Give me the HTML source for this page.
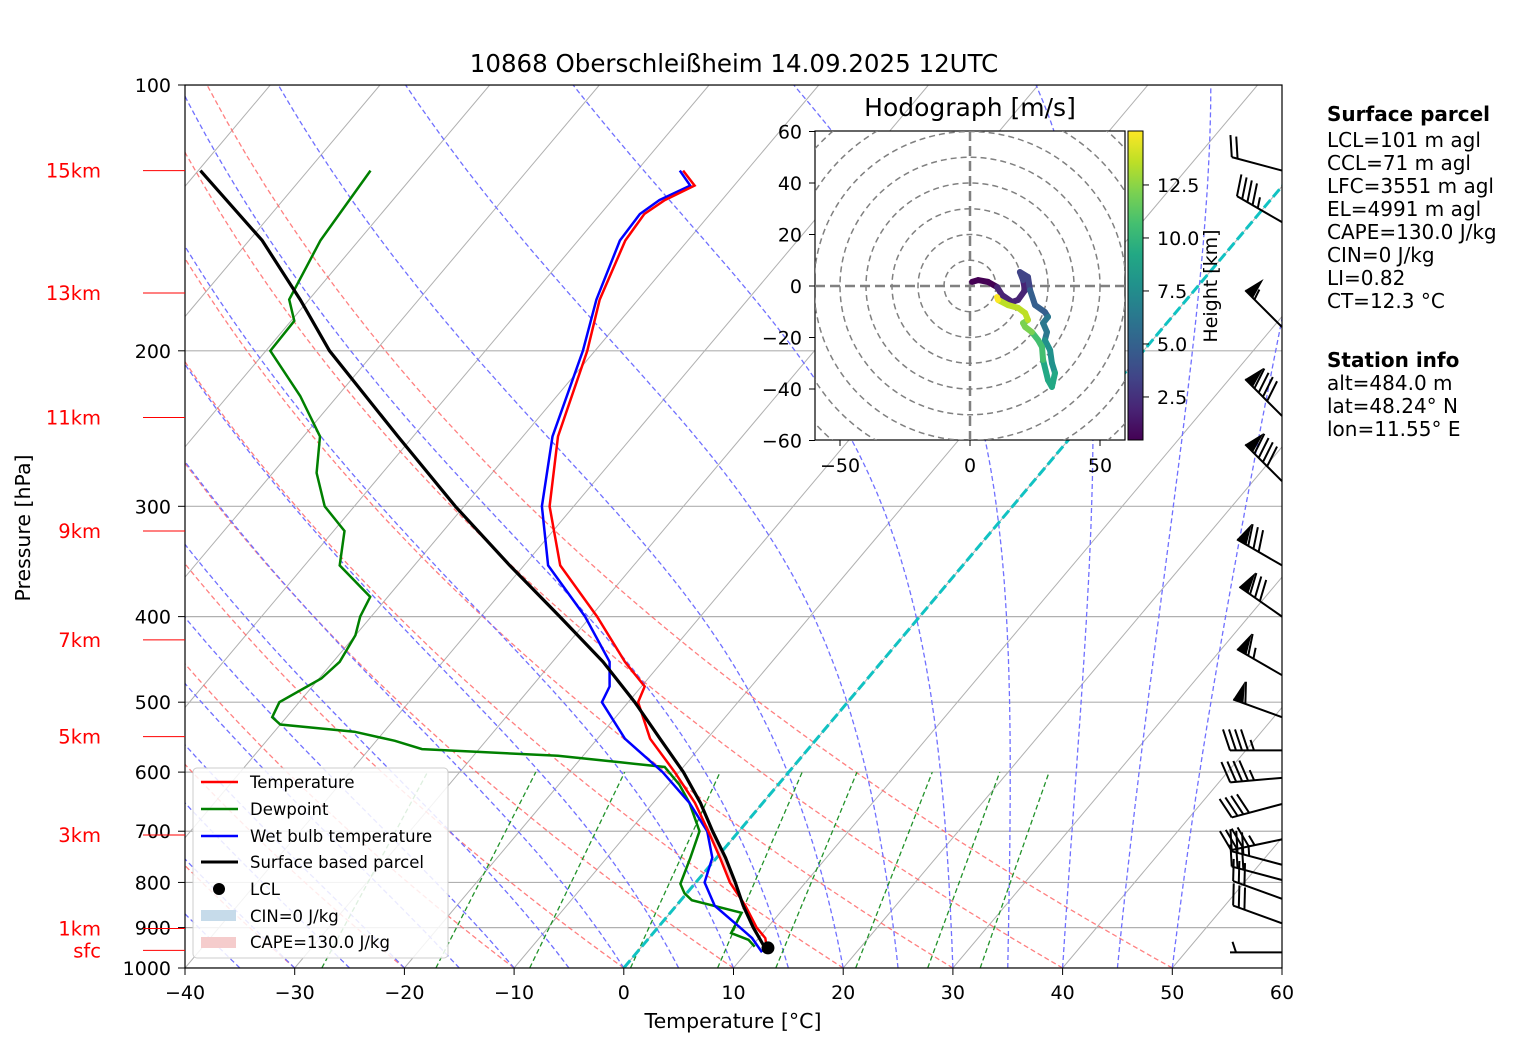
<!DOCTYPE html>
<html><head><meta charset="utf-8"><style>
html,body{margin:0;padding:0;background:#fff}
svg{display:block;font-family:"DejaVu Sans","Liberation Sans",sans-serif}
</style></head><body>
<svg id="c" width="1517" height="1054" viewBox="0 0 1517 1054" xmlns="http://www.w3.org/2000/svg">
<defs>
<clipPath id="main"><rect x="185" y="85" width="1097" height="883"/></clipPath>
<clipPath id="hodo"><rect x="815" y="131" width="310" height="309"/></clipPath>
<linearGradient id="vir" x1="0" y1="1" x2="0" y2="0">
<stop offset="0" stop-color="#440154"/><stop offset="0.1" stop-color="#482475"/><stop offset="0.2" stop-color="#414487"/><stop offset="0.3" stop-color="#355f8d"/><stop offset="0.4" stop-color="#2a788e"/><stop offset="0.5" stop-color="#21918c"/><stop offset="0.6" stop-color="#22a884"/><stop offset="0.7" stop-color="#44bf70"/><stop offset="0.8" stop-color="#7ad151"/><stop offset="0.9" stop-color="#bddf26"/><stop offset="1" stop-color="#fde725"/>
</linearGradient>
</defs>
<g id="bg" clip-path="url(#main)"></g>
<g id="series" clip-path="url(#main)"></g>
<rect x="185" y="85" width="1097" height="883" fill="none" stroke="#000" stroke-width="1.2"/>
<g id="axes"></g>
<g id="hodog"></g>
<g id="barbs"></g>
<text x="734" y="72" text-anchor="middle" font-size="24.5">10868 Oberschleißheim 14.09.2025 12UTC</text>
<text x="733" y="1028" text-anchor="middle" font-size="20.5">Temperature [°C]</text>
<text x="30" y="528" text-anchor="middle" font-size="20.5" transform="rotate(-90 30 528)">Pressure [hPa]</text>
<g font-size="20">
<text x="1327" y="121" font-weight="bold">Surface parcel</text>
<text x="1327" y="147">LCL=101 m agl</text>
<text x="1327" y="170">CCL=71 m agl</text>
<text x="1327" y="193">LFC=3551 m agl</text>
<text x="1327" y="216">EL=4991 m agl</text>
<text x="1327" y="239">CAPE=130.0 J/kg</text>
<text x="1327" y="262">CIN=0 J/kg</text>
<text x="1327" y="285">LI=0.82</text>
<text x="1327" y="308">CT=12.3 °C</text>
<text x="1327" y="367" font-weight="bold">Station info</text>
<text x="1327" y="390">alt=484.0 m</text>
<text x="1327" y="413">lat=48.24° N</text>
<text x="1327" y="436">lon=11.55° E</text>
</g>
<g id="legend">
<rect x="193" y="768" width="255" height="190" rx="4" fill="#fff" fill-opacity="0.85" stroke="#ccc"/>
<g font-size="16.5">
<line x1="201" y1="782" x2="238" y2="782" stroke="red" stroke-width="2.5"/><text x="250" y="788">Temperature</text>
<line x1="201" y1="809" x2="238" y2="809" stroke="green" stroke-width="2.5"/><text x="250" y="815">Dewpoint</text>
<line x1="201" y1="836" x2="238" y2="836" stroke="blue" stroke-width="2.5"/><text x="250" y="842">Wet bulb temperature</text>
<line x1="201" y1="862" x2="238" y2="862" stroke="#000" stroke-width="3"/><text x="250" y="868">Surface based parcel</text>
<circle cx="219" cy="889" r="6" fill="#000"/><text x="250" y="895">LCL</text>
<rect x="201" y="910" width="35" height="11" fill="#c6dbea"/><text x="250" y="922">CIN=0 J/kg</text>
<rect x="201" y="937" width="35" height="11" fill="#f5cccc"/><text x="250" y="948">CAPE=130.0 J/kg</text>
</g></g>
</svg>
<script>
// ---- sounding data ----
const presLevels = [960,925,900,850,800,750,700,650,600,550,500,480,450,400,350,300,250,200,175,150,140,135,130,125];
const tempValues = [11.9,10.6,9.0,6.3,3.1,0.3,-2.8,-6.2,-10.4,-15.2,-19.1,-19.7,-23.4,-29.4,-36.7,-42.2,-46.8,-50.7,-53.5,-55.7,-56,-55.2,-53.6,-55.8];
const wetbulbValues = [11.4,9.4,7.5,3.5,0.8,-0.4,-2.9,-6.7,-11.5,-17.5,-22.4,-22.9,-24.8,-30.5,-37.8,-42.9,-47.3,-51.1,-53.8,-56.2,-56.4,-55.7,-54,-56.1];
const dewPres = [946,929,913,866,838,823,803,750,700,650,620,592,585,575,565,553,540,530,520,500,470,450,420,400,380,350,320,300,275,250,225,200,185,175,150,140,125];
const dewValues = [10.3,9.2,7.1,6.5,1,-0.2,-1.3,-2.4,-3.6,-6.7,-9,-11.7,-16,-22.3,-35.2,-38.3,-42.7,-50,-51.3,-51.8,-49.8,-49.4,-50,-51,-51.6,-56.8,-59,-62.7,-66,-68.5,-73.4,-79.6,-79.7,-81.8,-83.5,-83.8,-84.3];
const parcelPres = [960,900,850,800,750,700,650,600,550,500,450,400,350,300,250,200,175,150,125];
const parcelValues = [11.9,8.7,6.1,3.6,0.8,-2.4,-5.7,-9.6,-14.3,-19.4,-25.4,-32.8,-41.3,-50.8,-61.4,-74.2,-80.8,-88.8,-99.8];
const lclPoint = [949, 11.6];
// ---- hodograph data ----
const hodoU = [0.8,3.1,6.9,10.4,12.3,16.2,18.5,21.2,20.4,19.2,22.3,23.1,25,28.8,30,28.1,29.6,28.8,30.8,31.5,32.7,31.5,30,28.1,27.7,26.2,23.8,21.2,20.4,22.3,21.2,18.5,14.6,10.8,10.4];
const hodoV = [1.6,2.3,1.6,-0.4,-3.5,-6.2,-5.4,-1.6,2.3,5.4,3.5,-1.6,-7.4,-10.1,-12,-14.4,-17.9,-21,-24.9,-29.9,-33.8,-39.2,-36.5,-28.7,-23.7,-21,-17.9,-15.9,-14.4,-13.2,-10.5,-8.5,-7.4,-5.4,-4.3];
const hodoH = [0.5,0.8,1.1,1.4,1.7,2.0,2.3,2.6,2.9,3.3,3.8,4.3,4.8,5.3,5.8,6.3,6.8,7.3,7.8,8.3,8.8,9.3,9.8,10.3,10.8,11.3,11.7,12.1,12.5,12.9,13.3,13.7,14.1,14.5,14.8];
// ---- wind barbs (pressure, direction from [deg], speed [kt]) ----
const barbPres = [125,143,188,237,281,350,400,466,520,567,609,652,715,764,795,835,890,960];
const barbDir = [285,300,315,315,315,300,305,300,290,270,265,255,258,285,285,290,290,270];
const barbSpd = [20,45,55,90,90,80,80,65,60,45,45,40,45,35,30,30,30,5];
const xTicks = [-40,-30,-20,-10,0,10,20,30,40,50,60];
const pTicks = [100,200,300,400,500,600,700,800,900,1000];
const heightLabels = ['sfc','1km','3km','5km','7km','9km','11km','13km','15km'];
const heightPres = [955,902,707,547,425,320,238,172,125];

const NS='http://www.w3.org/2000/svg';
function mk(tag,attrs,parent){const e=document.createElementNS(NS,tag);for(const k in attrs)e.setAttribute(k,attrs[k]);parent.appendChild(e);return e;}
const yOf=p=>85+883*(Math.log10(p)-2);
const xOf=(T,p)=>185+(T+40)*10.97+0.842*(968-yOf(p));
function pathFrom(ps,ts){return ps.map((p,i)=>(i?'L':'M')+xOf(ts[i],p).toFixed(1)+' '+yOf(p).toFixed(1)).join(' ');}
const bg=document.getElementById('bg'), se=document.getElementById('series'), ax=document.getElementById('axes');

for(const p of pTicks){const l=mk('line',{x1:185,x2:1282,y1:yOf(p),y2:yOf(p),stroke:'#b0b0b0','stroke-width':1.2},bg);

}
for(let T=-150;T<=60;T+=10){const l=mk('line',{x1:xOf(T,1000),y1:968,x2:xOf(T,100),y2:85,stroke:'#b0b0b0','stroke-width':1},bg);

}
const plist=[];for(let p=1000;p>=100;p-=10)plist.push(p);
for(let t0=-80;t0<=50;t0+=10){const th=t0+273.15;const ts=plist.map(p=>th*Math.pow(p/1000,0.2857)-273.15);
const e=mk('path',{d:pathFrom(plist,ts),fill:'none',stroke:'#ff6060','stroke-opacity':0.8,'stroke-width':1.3,'stroke-dasharray':'5 3'},bg);

}
function dTdp(T,p){const Rd=287.04,cp=1005.7,Lv=2.501e6,eps=0.622;const es=6.112*Math.exp(17.67*(T-273.15)/(T-29.65));const rs=eps*es/(p-es);return (Rd*T+Lv*rs)/(cp+Lv*Lv*rs*eps/(Rd*T*T))/p;}
for(let t0=-40;t0<=50;t0+=5){let T=t0+273.15;const ps=[],ts=[];for(let p=1000;p>=100;p-=5){ps.push(p);ts.push(T-273.15);const h=-5;const k1=dTdp(T,p),k2=dTdp(T+h/2*k1,p+h/2),k3=dTdp(T+h/2*k2,p+h/2),k4=dTdp(T+h*k3,p+h);T+=h/6*(k1+2*k2+2*k3+k4);}
const e=mk('path',{d:pathFrom(ps,ts),fill:'none',stroke:'#7070ff','stroke-width':1.3,'stroke-dasharray':'5 3'},bg);

}
for(const w of [0.0004,0.001,0.002,0.004,0.007,0.01,0.016,0.024,0.032]){const ps=[1000,600];const ts=ps.map(p=>{const e=w*p/(0.622+w);const l=Math.log(e/6.112);return 243.5*l/(17.67-l);});
const e=mk('path',{d:pathFrom(ps,ts),fill:'none',stroke:'#22922a','stroke-width':1.3,'stroke-dasharray':'5 3'},bg);

}
const zi=mk('line',{x1:xOf(0,1000),y1:968,x2:xOf(0,100),y2:85,stroke:'#11c2c2','stroke-width':3,'stroke-dasharray':'10 4'},bg);



function interp(ps,vs,p){for(let i=0;i<ps.length-1;i++){if(p<=ps[i]&&p>=ps[i+1]){const f=(Math.log(ps[i])-Math.log(p))/(Math.log(ps[i])-Math.log(ps[i+1]));return vs[i]+f*(vs[i+1]-vs[i]);}}return vs[vs.length-1];}
const fp=[];for(let p=870;p>=690;p-=5)fp.push(p);
let d='';fp.forEach((p,i)=>{d+=(i?'L':'M')+xOf(interp(parcelPres,parcelValues,p),p)+' '+yOf(p);});
fp.slice().reverse().forEach(p=>{d+='L'+xOf(Math.min(interp(presLevels,tempValues,p),interp(parcelPres,parcelValues,p)),p)+' '+yOf(p);});
const cf=mk('path',{d:d+'Z',fill:'#f5cccc','fill-opacity':0.9},se);



const dew=mk('path',{d:pathFrom(dewPres,dewValues),fill:'none',stroke:'green','stroke-width':2.5},se);


const wb=mk('path',{d:pathFrom(presLevels,wetbulbValues),fill:'none',stroke:'blue','stroke-width':2.5},se);


const tl=mk('path',{d:pathFrom(presLevels,tempValues),fill:'none',stroke:'red','stroke-width':2.5},se);


const pl=mk('path',{d:pathFrom(parcelPres,parcelValues),fill:'none',stroke:'#000','stroke-width':3.2},se);


const lc=mk('circle',{cx:xOf(lclPoint[1],lclPoint[0]),cy:yOf(lclPoint[0]),r:6.5,fill:'#000'},se);



for(const T of xTicks){const x=185+(T+40)*10.97;mk('line',{x1:x,x2:x,y1:968,y2:975,stroke:'#000'},ax);
const t=mk('text',{x:x,y:999,'text-anchor':'middle','font-size':19},ax);t.textContent=(T<0?'\u2212'+(-T):T);

}
for(const p of pTicks){const y=yOf(p);mk('line',{x1:178,x2:185,y1:y,y2:y,stroke:'#000'},ax);
const t=mk('text',{x:171,y:y+7,'text-anchor':'end','font-size':19},ax);t.textContent=p;

}
heightLabels.forEach((h,i)=>{const y=yOf(heightPres[i]);mk('line',{x1:143,x2:185,y1:y,y2:y,stroke:'red','stroke-width':1},ax);
const t=mk('text',{x:101,y:y+7,'text-anchor':'end','font-size':19.5,fill:'red'},ax);t.textContent=h;

});

const hg=document.getElementById('hodog');
const hu=u=>970+u*2.6, hv=v=>286-v*2.575;
const hb=mk('rect',{x:815,y:131,width:310,height:309,fill:'#fff',stroke:'#000','stroke-width':1.2},hg);


const hc=mk('g',{'clip-path':'url(#hodo)'},hg);
for(let r=10;r<=80;r+=10)mk('ellipse',{cx:970,cy:286,rx:r*2.6,ry:r*2.575,fill:'none',stroke:'#808080','stroke-width':1.5,'stroke-dasharray':'6 4'},hc);
mk('line',{x1:815,x2:1125,y1:286,y2:286,stroke:'#808080','stroke-width':2.5,'stroke-dasharray':'10 5'},hc);
mk('line',{x1:970,x2:970,y1:131,y2:440,stroke:'#808080','stroke-width':2.5,'stroke-dasharray':'10 5'},hc);
const vstops=['#440154','#482475','#414487','#355f8d','#2a788e','#21918c','#22a884','#44bf70','#7ad151','#bddf26','#fde725'];
function vir(h){let f=(h-0.47)/(15.05-0.47);f=Math.max(0,Math.min(1,f));return vstops[Math.round(f*10)];}
for(let i=0;i<hodoU.length-1;i++){const s=mk('line',{x1:hu(hodoU[i]),y1:hv(hodoV[i]),x2:hu(hodoU[i+1]),y2:hv(hodoV[i+1]),stroke:vir(hodoH[i]),'stroke-width':6,'stroke-linecap':'round'},hc);

}
[-50,0,50].forEach(u=>{mk('line',{x1:hu(u),x2:hu(u),y1:440,y2:446,stroke:'#000'},hg);const t=mk('text',{x:hu(u),y:472,'text-anchor':'middle','font-size':19},hg);t.textContent=u<0?'\u2212'+(-u):u;

});
[60,40,20,0,-20,-40,-60].forEach(v=>{mk('line',{x1:809,x2:815,y1:hv(v),y2:hv(v),stroke:'#000'},hg);const t=mk('text',{x:802,y:hv(v)+7,'text-anchor':'end','font-size':19},hg);t.textContent=v<0?'\u2212'+(-v):v;

});
const ht=mk('text',{x:970,y:116,'text-anchor':'middle','font-size':25},hg);ht.textContent='Hodograph [m/s]';


const cb=mk('rect',{x:1128,y:131,width:15,height:309,fill:'url(#vir)',stroke:'#000','stroke-width':1},hg);


[2.5,5.0,7.5,10.0,12.5].forEach(h=>{const y=440-(h-0.47)*21.2;mk('line',{x1:1143,x2:1149,y1:y,y2:y,stroke:'#000'},hg);const t=mk('text',{x:1157,y:y+7,'font-size':19},hg);t.textContent=h.toFixed(1);

});
const cl=mk('text',{x:1217,y:286,'text-anchor':'middle','font-size':19,transform:'rotate(-90 1217 286)'},hg);cl.textContent='Height [km]';



const bgp=document.getElementById('barbs');
barbPres.forEach((p,i)=>{const bx=1282,by=yOf(p),L=52;const a=barbDir[i]*Math.PI/180;
const dx=Math.sin(a), dy=-Math.cos(a);
const tx=bx+dx*L, ty=by+dy*L;
const g=mk('g',{},bgp);


mk('line',{x1:bx,y1:by,x2:tx,y2:ty,stroke:'#000','stroke-width':2},g);
const nx=-dy, ny=dx;
const up=(ny<0||(ny===0&&nx<0));
const nxx=up?nx:-nx, nyy=up?ny:-ny;
let s=barbSpd[i], pos=0; const bl=21, sp=6;
while(s>=50){const px=tx-dx*pos,py=ty-dy*pos;mk('polygon',{points:`${px},${py} ${px+nxx*bl-dx*5},${py+nyy*bl-dy*5} ${px-dx*11},${py-dy*11}`,fill:'#000'},g);pos+=13;s-=50;}
while(s>=10){const px=tx-dx*pos,py=ty-dy*pos;mk('line',{x1:px,y1:py,x2:px+nxx*bl+dx*7,y2:py+nyy*bl+dy*7,stroke:'#000','stroke-width':2},g);pos+=sp;s-=10;}
if(s>=5){if(pos===0)pos=sp;const px=tx-dx*pos,py=ty-dy*pos;mk('line',{x1:px,y1:py,x2:px+nxx*bl/2+dx*3.5,y2:py+nyy*bl/2+dy*3.5,stroke:'#000','stroke-width':2},g);}
});
</script>
</body></html>
